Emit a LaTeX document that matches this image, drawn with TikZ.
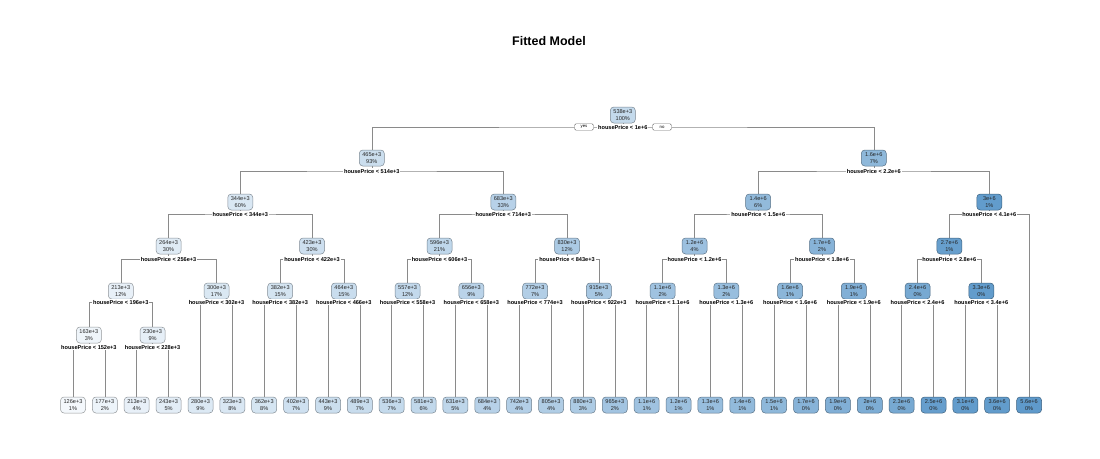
\documentclass[tikz,border=0pt]{standalone}
\usepackage{fontspec}
\setmainfont{Liberation Sans}
\usetikzlibrary{backgrounds}
\definecolor{dk}{HTML}{4E8FC5}
\definecolor{lt}{HTML}{F7FAFD}
\definecolor{linec}{HTML}{8A8A8A}
\tikzset{
  tbox/.style={draw=dk!#1!lt!62!black, fill=dk!#1!lt, rounded corners=3.5pt,
    minimum width=25pt, minimum height=16pt, inner sep=1pt, align=center,
    line width=0.5pt, text=black!85,
    font=\fontsize{5.6}{6.6}\selectfont},
  splitlab/.style={fill=white, inner sep=0.8pt, text=black,
    font=\bfseries\fontsize{5.6}{6}\selectfont},
  yn/.style={draw=black!55, fill=white, rounded corners=1.5pt, inner sep=0.6pt,
    minimum width=19pt, minimum height=6.5pt, line width=0.4pt,
    font=\fontsize{4.3}{5}\selectfont},
  conn/.style={draw=linec, line width=0.55pt},
  ttl/.style={font=\bfseries\fontsize{12.5}{14}\selectfont}
}
\newcommand\tn[6]{\node[tbox=#4] (#1) at (#2,#3) {#5\\#6};}
\newcommand\splitn[4]{\node[splitlab] (s#1) at (#2,#3) {housePrice < #4};}
\newcommand\brn[3]{\draw[conn] (#1.south) -- (s#1.north);
  \draw[conn] (#2.north) |- (s#1.center) -| (#3.north);}
\begin{document}
\begin{tikzpicture}[x=1pt,y=-1pt]
\useasboundingbox (0,0) rectangle (1100,458);
\node[ttl] (title) at (549,41) {Fitted Model};
% depth 0
\tn{R}{622.8}{115}{30}{538e+3}{100\%}
\splitn{R}{622.8}{127}{1e+6}
\node[yn] (yes) at (584,127) {yes};
\node[yn] (no) at (662,127) {no};
% depth 1
\tn{A}{371.8}{158}{26}{465e+3}{93\%}
\splitn{A}{371.8}{171}{514e+3}
\tn{B}{873.8}{158}{62}{1.6e+6}{7\%}
\splitn{B}{873.8}{171}{2.2e+6}
% depth 2
\tn{AA}{240.3}{202}{18}{344e+3}{60\%}
\splitn{AA}{240.3}{214}{344e+3}
\tn{AB}{503.3}{202}{38}{683e+3}{33\%}
\splitn{AB}{503.3}{214}{714e+3}
\tn{BA}{758.2}{202}{60}{1.4e+6}{6\%}
\splitn{BA}{758.2}{214}{1.5e+6}
\tn{BB}{989.3}{202}{88}{3e+6}{1\%}
\splitn{BB}{989.3}{214}{4.1e+6}
% depth 3
\tn{AAA}{168.6}{246}{14}{264e+3}{30\%}
\splitn{AAA}{168.6}{259}{256e+3}
\tn{AAB}{312}{246}{25}{423e+3}{30\%}
\splitn{AAB}{312}{259}{422e+3}
\tn{ABA}{439.5}{246}{33}{596e+3}{21\%}
\splitn{ABA}{439.5}{259}{606e+3}
\tn{ABB}{567}{246}{45}{830e+3}{12\%}
\splitn{ABB}{567}{259}{843e+3}
\tn{BAA}{694.5}{246}{54}{1.2e+6}{4\%}
\splitn{BAA}{694.5}{259}{1.2e+6}
\tn{BAB}{822}{246}{66}{1.7e+6}{2\%}
\splitn{BAB}{822}{259}{1.8e+6}
\tn{BBA}{949.4}{246}{85}{2.7e+6}{1\%}
\splitn{BBA}{949.4}{259}{2.8e+6}
% depth 4
\tn{C1}{120.8}{291}{9}{213e+3}{12\%}
\splitn{C1}{120.8}{302}{196e+3}
\tn{C2}{216.5}{291}{17}{300e+3}{17\%}
\splitn{C2}{216.5}{302}{302e+3}
\tn{C3}{280.2}{291}{21}{382e+3}{15\%}
\splitn{C3}{280.2}{302}{382e+3}
\tn{C4}{343.9}{291}{27}{464e+3}{15\%}
\splitn{C4}{343.9}{302}{466e+3}
\tn{C5}{407.6}{291}{31}{557e+3}{12\%}
\splitn{C5}{407.6}{302}{558e+3}
\tn{C6}{471.4}{291}{36}{656e+3}{9\%}
\splitn{C6}{471.4}{302}{658e+3}
\tn{C7}{535.1}{291}{41}{772e+3}{7\%}
\splitn{C7}{535.1}{302}{774e+3}
\tn{C8}{598.9}{291}{47}{915e+3}{5\%}
\splitn{C8}{598.9}{302}{922e+3}
\tn{C9}{662.6}{291}{52}{1.1e+6}{2\%}
\splitn{C9}{662.6}{302}{1.1e+6}
\tn{C10}{726.3}{291}{56}{1.3e+6}{2\%}
\splitn{C10}{726.3}{302}{1.3e+6}
\tn{C11}{790}{291}{64}{1.6e+6}{1\%}
\splitn{C11}{790}{302}{1.6e+6}
\tn{C12}{853.8}{291}{70}{1.9e+6}{1\%}
\splitn{C12}{853.8}{302}{1.9e+6}
\tn{C13}{917.6}{291}{76}{2.4e+6}{0\%}
\splitn{C13}{917.6}{302}{2.4e+6}
\tn{C14}{981.3}{291}{88}{3.3e+6}{0\%}
\splitn{C14}{981.3}{302}{3.4e+6}
% depth 5
\tn{D1}{88.9}{335}{5}{163e+3}{3\%}
\splitn{D1}{88.9}{347}{152e+3}
\tn{D2}{152.6}{335}{10}{230e+3}{9\%}
\splitn{D2}{152.6}{347}{228e+3}
% leaves
\tn{L0}{73.0}{405}{2}{126e+3}{1\%}
\tn{L1}{104.9}{405}{6}{177e+3}{2\%}
\tn{L2}{136.7}{405}{9}{213e+3}{4\%}
\tn{L3}{168.6}{405}{12}{243e+3}{5\%}
\tn{L4}{200.5}{405}{16}{280e+3}{9\%}
\tn{L5}{232.4}{405}{18}{323e+3}{8\%}
\tn{L6}{264.2}{405}{20}{362e+3}{8\%}
\tn{L7}{296.1}{405}{24}{402e+3}{7\%}
\tn{L8}{328.0}{405}{26}{443e+3}{9\%}
\tn{L9}{359.8}{405}{28}{489e+3}{7\%}
\tn{L10}{391.7}{405}{30}{536e+3}{7\%}
\tn{L11}{423.6}{405}{32}{581e+3}{6\%}
\tn{L12}{455.4}{405}{34}{631e+3}{5\%}
\tn{L13}{487.3}{405}{38}{684e+3}{4\%}
\tn{L14}{519.2}{405}{40}{742e+3}{4\%}
\tn{L15}{551.1}{405}{42}{805e+3}{4\%}
\tn{L16}{582.9}{405}{44}{880e+3}{3\%}
\tn{L17}{614.8}{405}{50}{965e+3}{2\%}
\tn{L18}{646.7}{405}{52}{1.1e+6}{1\%}
\tn{L19}{678.5}{405}{54}{1.2e+6}{1\%}
\tn{L20}{710.4}{405}{56}{1.3e+6}{1\%}
\tn{L21}{742.3}{405}{60}{1.4e+6}{1\%}
\tn{L22}{774.1}{405}{62}{1.5e+6}{1\%}
\tn{L23}{806.0}{405}{66}{1.7e+6}{0\%}
\tn{L24}{837.9}{405}{70}{1.9e+6}{0\%}
\tn{L25}{869.8}{405}{72}{2e+6}{0\%}
\tn{L26}{901.6}{405}{76}{2.3e+6}{0\%}
\tn{L27}{933.5}{405}{86}{2.5e+6}{0\%}
\tn{L28}{965.4}{405}{88}{3.1e+6}{0\%}
\tn{L29}{997.2}{405}{88}{3.6e+6}{0\%}
\tn{L30}{1029.1}{405}{90}{5.6e+6}{0\%}
\begin{pgfonlayer}{background}
\fill[white] (0,0) rectangle (1100,458);
\brn{R}{A}{B}
\brn{A}{AA}{AB}
\brn{B}{BA}{BB}
\brn{AA}{AAA}{AAB}
\brn{AB}{ABA}{ABB}
\brn{BA}{BAA}{BAB}
\brn{BB}{BBA}{L30}
\brn{AAA}{C1}{C2}
\brn{AAB}{C3}{C4}
\brn{ABA}{C5}{C6}
\brn{ABB}{C7}{C8}
\brn{BAA}{C9}{C10}
\brn{BAB}{C11}{C12}
\brn{BBA}{C13}{C14}
\brn{C1}{D1}{D2}
\brn{C2}{L4}{L5}
\brn{C3}{L6}{L7}
\brn{C4}{L8}{L9}
\brn{C5}{L10}{L11}
\brn{C6}{L12}{L13}
\brn{C7}{L14}{L15}
\brn{C8}{L16}{L17}
\brn{C9}{L18}{L19}
\brn{C10}{L20}{L21}
\brn{C11}{L22}{L23}
\brn{C12}{L24}{L25}
\brn{C13}{L26}{L27}
\brn{C14}{L28}{L29}
\brn{D1}{L0}{L1}
\brn{D2}{L2}{L3}
\end{pgfonlayer}
\end{tikzpicture}
\end{document}
